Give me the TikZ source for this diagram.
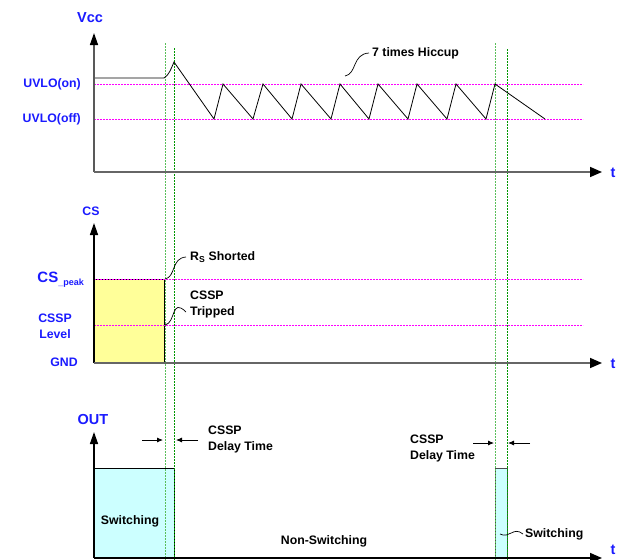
\documentclass[tikz,border=0pt]{standalone}
\usepackage{fontspec}
\setmainfont{Liberation Sans}
\usetikzlibrary{arrows.meta}
\definecolor{lblue}{RGB}{26,26,255}
\definecolor{ylw}{RGB}{255,255,153}
\definecolor{cyn}{RGB}{204,255,255}
\definecolor{mag}{RGB}{255,0,255}
\definecolor{gra}{RGB}{90,190,90}
\definecolor{grb}{RGB}{0,150,0}
\begin{document}
\begin{tikzpicture}[x=1pt,y=-1pt,
  lbl/.style={font=\fontsize{12.3}{16}\selectfont\bfseries, inner sep=0pt, align=left},
  blbl/.style={lbl, text=lblue},
  bigb/.style={blbl, font=\fontsize{14.5}{16}\selectfont\bfseries},
  xax/.style={draw=black!60, line width=1.6pt, -{Triangle[length=12pt,width=10pt,color=black]}},
  yax/.style={draw=black!65, line width=1.4pt, -{Triangle[length=12pt,width=8pt,color=black]}},
  thr/.style={draw=mag, dash pattern=on 2pt off 1pt, line width=1pt},
  gla/.style={draw=gra, dash pattern=on 2pt off 1pt, line width=1.2pt},
  glb/.style={draw=grb, dash pattern=on 2pt off 1pt, line width=1pt},
  wave/.style={draw=black, line width=0.8pt, line join=miter},
  ldr/.style={draw=black, line width=0.7pt},
  dar/.style={draw=black, line width=0.8pt, -{Latex[length=6pt,width=5pt]}}
]
\useasboundingbox (0,0) rectangle (622,560);

% ---------- boxes ----------
\draw[fill=ylw, draw=black, line width=0.8pt] (94,279) rectangle (164,363);
\draw[fill=cyn, draw=black, line width=0.8pt] (94,468) rectangle (174,558);
\draw[fill=cyn, draw=black!70, line width=0.8pt] (495,468) rectangle (507,558);

% ---------- thresholds ----------
\coordinate (uonL) at (94,84.5);   \coordinate (uonR) at (583,84.5);
\coordinate (uofL) at (94,119.5);  \coordinate (uofR) at (583,119.5);
\coordinate (pkL) at (94,279.5);   \coordinate (pkR) at (583,279.5);
\coordinate (lvL) at (94,325.5);   \coordinate (lvR) at (583,325.5);
\draw[thr] (uonL) -- (uonR);
\draw[thr] (uofL) -- (uofR);
\draw[thr] (pkL) -- (pkR);
\draw[thr] (lvL) -- (lvR);

% ---------- green time markers ----------
\coordinate (g1t) at (165.5,43);  \coordinate (g1b) at (165.5,560);
\coordinate (g2t) at (174.5,48);  \coordinate (g2b) at (174.5,560);
\coordinate (g3t) at (495.5,43);  \coordinate (g3b) at (495.5,560);
\coordinate (g4t) at (507.5,49);  \coordinate (g4b) at (507.5,560);
\draw[gla] (g1t) -- (g1b);
\draw[glb] (g2t) -- (g2b);
\draw[gla] (g3t) -- (g3b);
\draw[glb] (g4t) -- (g4b);

% ---------- Vcc waveform ----------
\draw[wave] (94,78) -- (164,78) .. controls (169,75) and (171,69) .. (174,62)
  -- (214,119) -- (223,84) -- (253,119) -- (263,84) -- (292,119) -- (301,84)
  -- (331,119) -- (340,84) -- (369,119) -- (378,84) -- (408,119) -- (417,84)
  -- (447,119) -- (456,84) -- (486,119) -- (495,84) -- (545,119);

% ---------- axes ----------
\coordinate (o1) at (94,172); \coordinate (y1) at (94,33);  \coordinate (x1) at (602,172);
\coordinate (o2) at (94,363); \coordinate (y2) at (94,223); \coordinate (x2) at (602,363);
\coordinate (o3) at (94,558); \coordinate (y3) at (94,432); \coordinate (x3) at (602,558);
\draw[yax] (o1) -- (y1);
\draw[xax] (o1) -- (x1);
\draw[yax, draw=black] (o2) -- (y2);
\draw[xax] (o2) -- (x2);
\draw[yax, draw=black] (o3) -- (y3);
\draw[xax, draw=black] (o3) -- (x3);

% ---------- labels: Vcc panel ----------
\node[bigb] (vcc) at (90,18) {Vcc};
\node[blbl, anchor=east] (uon) at (81,84) {UVLO(on)};
\node[blbl, anchor=east] (uoff) at (81,119) {UVLO(off)};
\node[bigb] (tv) at (613,173) {t};
\node[lbl, anchor=west] (hic) at (372,53) {7 times Hiccup};
\coordinate (hicp) at (345,76);
\draw[ldr] (hicp) .. controls (357,74) and (352,54) .. ([xshift=-3pt]hic.west);

% ---------- labels: CS panel ----------
\node[blbl] (cs) at (91,211) {CS};
\node[blbl, anchor=east] (cspk) at (84,280)
  {{\fontsize{15}{16}\selectfont CS}\raisebox{-3pt}{\fontsize{9}{10}\selectfont \_peak}};
\node[blbl, align=center] (cssplv) at (55,326) {CSSP\\Level};
\node[blbl] (gnd) at (64,362) {GND};
\node[bigb] (tc) at (613,364) {t};
\node[lbl, anchor=west] (rs) at (190,257) {R\textsubscript{S} Shorted};
\node[lbl, anchor=west] (trip) at (190,304) {CSSP\\Tripped};
\coordinate (rsp) at (165,279);
\coordinate (trp) at (165,325);
\draw[ldr] (rsp) .. controls (176,277) and (171,258) .. ([xshift=-4pt]rs.west);
\draw[ldr] (trp) .. controls (176,323) and (171,297) .. ([xshift=-4pt,yshift=-8pt]trip.west);

% ---------- labels: OUT panel ----------
\node[bigb] (out) at (93,420) {OUT};
\node[lbl, anchor=west] (dly1) at (208,439) {CSSP\\Delay Time};
\node[lbl, anchor=west] (dly2) at (410,448) {CSSP\\Delay Time};
\coordinate (a1s) at (142,440); \coordinate (a1e) at (163,440);
\coordinate (a2s) at (198,440); \coordinate (a2e) at (176,440);
\coordinate (a3s) at (473,443); \coordinate (a3e) at (494,443);
\coordinate (a4s) at (530,443); \coordinate (a4e) at (508,443);
\draw[dar] (a1s) -- (a1e);
\draw[dar] (a2s) -- (a2e);
\draw[dar] (a3s) -- (a3e);
\draw[dar] (a4s) -- (a4e);
\node[lbl] (sw1) at (130,521) {Switching};
\node[lbl] (nsw) at (324,541) {Non-Switching};
\node[lbl, anchor=west] (sw2) at (525,534) {Switching};
\coordinate (sw2p) at (500,534);
\draw[ldr] (sw2p) .. controls (510,539) and (513,526) .. ([xshift=-2pt]sw2.west);
\node[bigb, anchor=north] (to) at (613,545) {t};
\end{tikzpicture}
\end{document}
